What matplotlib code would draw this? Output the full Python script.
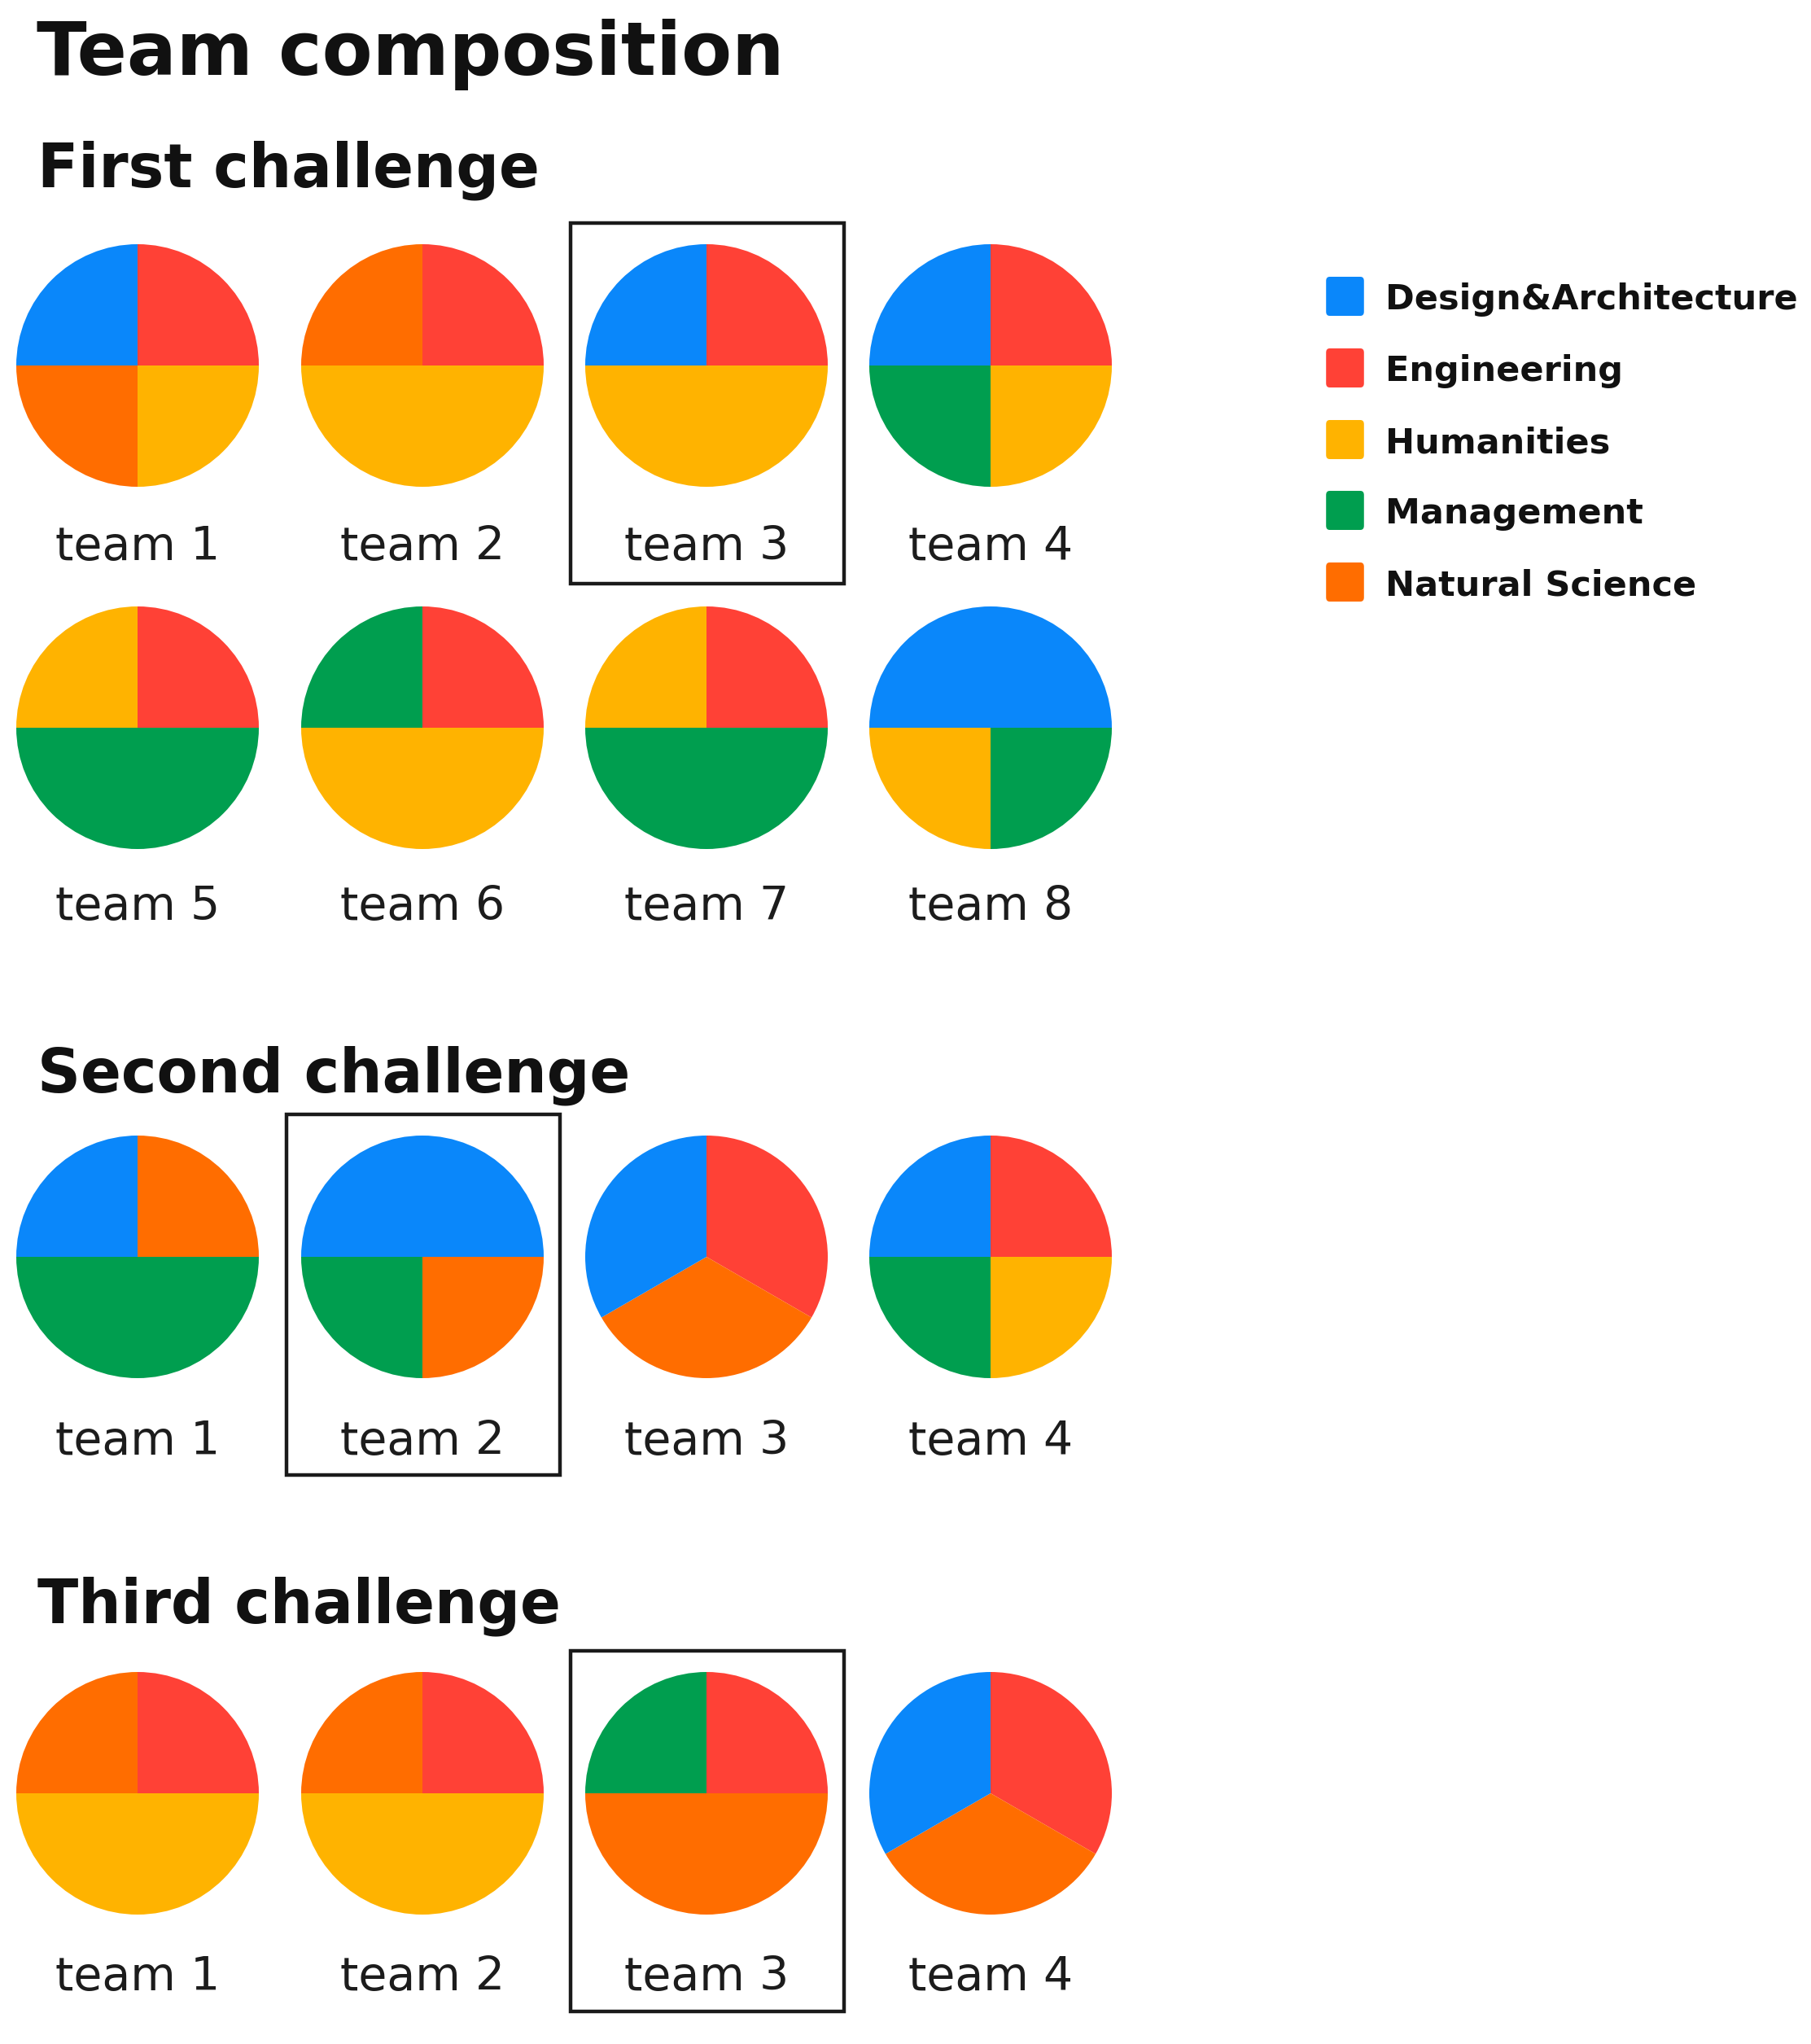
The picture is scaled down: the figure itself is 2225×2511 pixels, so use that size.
import matplotlib
matplotlib.use("Agg")
import matplotlib.pyplot as plt
from matplotlib.patches import Rectangle, FancyBboxPatch

W, H, DPI = 2225, 2511, 100

# disciplines and their colours (legend order)
categories = ["Design&Architecture", "Engineering", "Humanities", "Management", "Natural Science"]
codes = ["DA", "EN", "HU", "MA", "NS"]
colors = ["#0A87FA", "#FF4136", "#FFB300", "#009E4F", "#FF6D00"]

# one entry per team member, clockwise from 12 o'clock
first_labels = ["team 1", "team 2", "team 3", "team 4", "team 5", "team 6", "team 7", "team 8"]
first_members = [
    ["EN", "HU", "NS", "DA"],
    ["EN", "HU", "HU", "NS"],
    ["EN", "HU", "HU", "DA"],
    ["EN", "HU", "MA", "DA"],
    ["EN", "MA", "MA", "HU"],
    ["EN", "HU", "HU", "MA"],
    ["EN", "MA", "MA", "HU"],
    ["DA", "MA", "HU", "DA"],
]
first_winner = "team 3"

second_labels = ["team 1", "team 2", "team 3", "team 4"]
second_members = [
    ["NS", "MA", "MA", "DA"],
    ["DA", "NS", "MA", "DA"],
    ["EN", "NS", "DA"],
    ["EN", "HU", "MA", "DA"],
]
second_winner = "team 2"

third_labels = ["team 1", "team 2", "team 3", "team 4"]
third_members = [
    ["EN", "HU", "HU", "NS"],
    ["EN", "HU", "HU", "NS"],
    ["EN", "NS", "NS", "MA"],
    ["EN", "NS", "DA"],
]
third_winner = "team 3"

color_of = dict(zip(codes, colors))

HEAD = "DejaVu Sans"
BODY = "DejaVu Sans"
INK = "#111111"

fig = plt.figure(figsize=(W / DPI, H / DPI), dpi=DPI, facecolor="white")


def fx(x):
    return x / W


def fy(y):
    return 1 - y / H


def pie(cx, cy, members, r=149):
    ax = fig.add_axes([fx(cx - r), fy(cy + r), 2 * r / W, 2 * r / H])
    ax.pie([1] * len(members), colors=[color_of[m] for m in members],
           startangle=90, counterclock=False, radius=1,
           wedgeprops=dict(linewidth=0))
    ax.set_xlim(-1, 1)
    ax.set_ylim(-1, 1)
    ax.set_axis_off()


def box(x0, y0, x1, y1):
    fig.add_artist(Rectangle((fx(x0), fy(y1)), (x1 - x0) / W, (y1 - y0) / H,
                             transform=fig.transFigure, fill=False,
                             edgecolor="#1a1a1a", linewidth=3.2))


col_x = [169, 519, 868, 1217]


def grid(labels, members, winner, pie_rows, label_rows):
    for i, (lab, mem) in enumerate(zip(labels, members)):
        r, c = divmod(i, 4)
        cx, cy = col_x[c], pie_rows[r]
        pie(cx, cy, mem)
        fig.text(fx(cx), fy(label_rows[r]), lab, ha="center", va="baseline",
                 fontsize=41, family=BODY, color="#1c1c1c")
        if lab == winner:
            box(cx - 167, cy - 175, cx + 169, cy + 268)


# headings
fig.text(fx(45), fy(92), "Team composition", fontsize=65, fontweight="bold",
         family=HEAD, color=INK, va="baseline")
fig.text(fx(46), fy(230), "First challenge", fontsize=53, fontweight="bold",
         family=HEAD, color=INK, va="baseline")
fig.text(fx(46), fy(1341), "Second challenge", fontsize=53, fontweight="bold",
         family=HEAD, color=INK, va="baseline")
fig.text(fx(46), fy(1994), "Third challenge", fontsize=53, fontweight="bold",
         family=HEAD, color=INK, va="baseline")

grid(first_labels, first_members, first_winner, [449, 894], [688, 1130])
grid(second_labels, second_members, second_winner, [1544], [1787])
grid(third_labels, third_members, third_winner, [2203], [2445])

# legend
leg_y = [364, 452, 540, 627, 715]
for cat, col, y in zip(categories, colors, leg_y):
    fig.add_artist(FancyBboxPatch((fx(1631), fy(y + 22)), 43 / W, 44 / H,
                                  boxstyle="round,pad=0.0008,rounding_size=0.002",
                                  transform=fig.transFigure, facecolor=col,
                                  edgecolor="none"))
    fig.text(fx(1702), fy(y + 16), cat, fontsize=31, fontweight="bold",
             family=HEAD, color=INK, va="baseline")

fig.savefig("out.png", dpi=DPI, facecolor="white")
